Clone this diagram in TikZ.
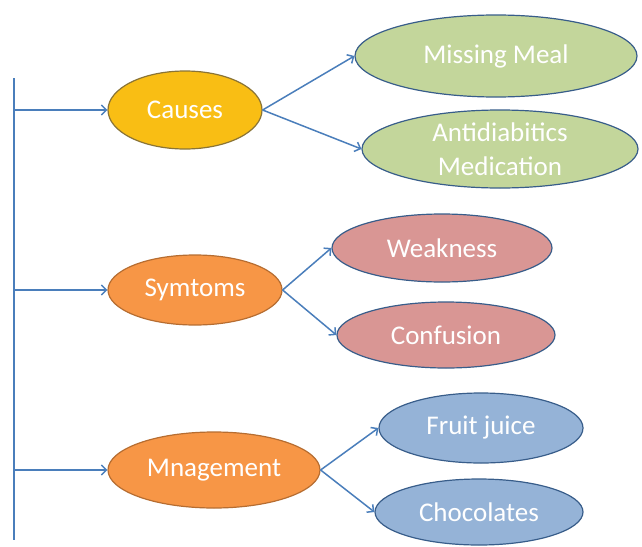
\documentclass[tikz,border=0pt]{standalone}
\usepackage{fontspec}
\setmainfont{Carlito}
\usetikzlibrary{shapes.geometric,arrows.meta}
\definecolor{linec}{HTML}{4A7EBB}
\definecolor{goldf}{HTML}{F9BE14}
\definecolor{goldd}{HTML}{8A7436}
\definecolor{orangef}{HTML}{F79646}
\definecolor{oranged}{HTML}{B66D31}
\definecolor{greenf}{HTML}{C3D69B}
\definecolor{pinkf}{HTML}{D99694}
\definecolor{bluef}{HTML}{95B3D7}
\definecolor{outl}{HTML}{385D8A}
\tikzset{
  oval/.style={ellipse, inner sep=0pt, text=white, line width=1.2pt, align=center,
    font=\fontsize{27}{34}\selectfont},
  conn/.style={draw=linec, line width=1.5pt, -{Straight Barb[length=5pt,width=10pt,line width=1.5pt]}}
}
\begin{document}
\begin{tikzpicture}[x=1pt,y=-1pt]
\useasboundingbox (0,0) rectangle (642,546);
\coordinate (top) at (14,78);
\coordinate (bot) at (14,540);
\coordinate (b1) at (14,110);
\coordinate (b2) at (14,290);
\coordinate (b3) at (14,470);
\draw[linec, line width=1.5pt] (top) -- (bot);

\node[oval, fill=goldf, draw=goldd, minimum width=154pt, minimum height=78pt] (causes) at (185,110) {Causes};
\node[oval, fill=orangef, draw=oranged, minimum width=174pt, minimum height=70pt] (sym) at (195,290) {Symtoms};
\node[oval, fill=orangef, draw=oranged, minimum width=212pt, minimum height=76pt] (mng) at (214,470) {Mnagement};

\node[oval, fill=greenf, draw=outl, minimum width=282pt, minimum height=82pt] (mm) at (496,56) {Missing Meal};
\node[oval, fill=greenf, draw=outl, minimum width=276pt, minimum height=78pt] (anti) at (500,149) {Antidiabitics\\Medication};
\node[oval, fill=pinkf, draw=outl, minimum width=220pt, minimum height=68pt] (weak) at (442,248) {Weakness};
\node[oval, fill=pinkf, draw=outl, minimum width=218pt, minimum height=66pt] (conf) at (446,335) {Confusion};
\node[oval, fill=bluef, draw=outl, minimum width=204pt, minimum height=70pt] (fj) at (481,428) {Fruit juice};
\node[oval, fill=bluef, draw=outl, minimum width=208pt, minimum height=66pt] (choc) at (479,512) {Chocolates};

\draw[conn] (b1) -- (causes.west);
\draw[conn] (b2) -- (sym.west);
\draw[conn] (b3) -- (mng.west);
\draw[conn] (causes.east) -- (mm.west);
\draw[conn] (causes.east) -- (anti.west);
\draw[conn] (sym.east) -- (weak.west);
\draw[conn] (sym.east) -- (conf.west);
\draw[conn] (mng.east) -- (fj.west);
\draw[conn] (mng.east) -- (choc.west);
\end{tikzpicture}
\end{document}
